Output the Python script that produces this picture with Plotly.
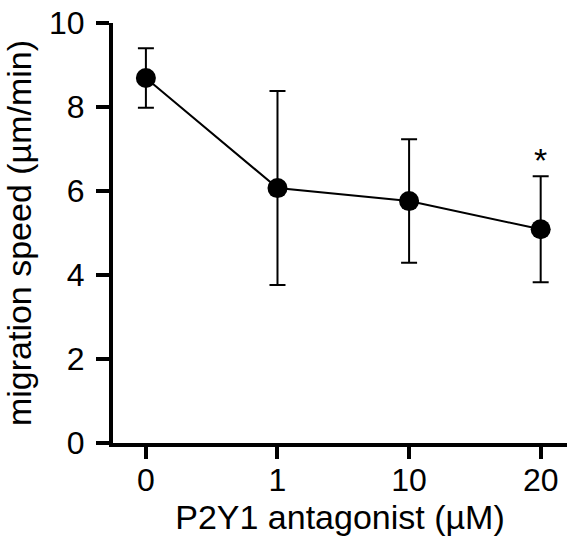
import plotly.graph_objects as go

categories = ["0", "1", "10", "20"]
speed = [8.69, 6.07, 5.76, 5.09]
err = [0.71, 2.31, 1.47, 1.26]
sig_label = ["", "", "", "*"]

xpos = list(range(len(categories)))
FONT = "Liberation Sans, Arial, sans-serif"

fig = go.Figure()
fig.add_trace(go.Scatter(
    x=xpos, y=speed, mode="lines+markers",
    line=dict(color="black", width=2),
    marker=dict(color="black", size=20),
    error_y=dict(type="data", array=err, visible=True, color="black", thickness=2, width=8),
    showlegend=False,
))
for i, s in enumerate(sig_label):
    if s:
        fig.add_annotation(x=xpos[i], y=speed[i] + err[i], text=s, showarrow=False,
                           yshift=16, font=dict(family=FONT, size=34, color="black"))

fig.update_layout(
    width=568, height=541,
    margin=dict(l=113, r=1, t=23, b=98),
    paper_bgcolor="white", plot_bgcolor="white",
    font=dict(family=FONT, size=32, color="black"),
)
fig.update_xaxes(
    range=[-0.25, 3.2], tickvals=xpos, ticktext=categories,
    showline=True, linecolor="black", linewidth=4,
    ticks="outside", ticklen=12, tickwidth=4, tickcolor="black",
    ticklabelstandoff=-6, ticklabeloverflow="allow",
    showgrid=False, zeroline=False,
    title=dict(text="P2Y1 antagonist (µM)", font=dict(size=34), standoff=4),
    automargin=False,
)
fig.update_yaxes(
    range=[0, 10], tickvals=[0, 2, 4, 6, 8, 10],
    showline=True, linecolor="black", linewidth=4,
    ticks="outside", ticklen=13, tickwidth=4, tickcolor="black",
    ticklabelstandoff=5, ticklabeloverflow="allow",
    showgrid=False, zeroline=False,
    title=dict(text="migration speed (µm/min)", font=dict(size=34), standoff=10),
    automargin=False,
)
fig.write_html("out.html", config={"displayModeBar": False},
               post_script="document.body.style.margin='0';")
